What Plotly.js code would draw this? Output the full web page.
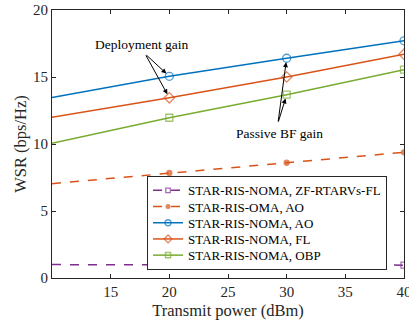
<!DOCTYPE html>
<html>
<head>
<meta charset="utf-8">
<script src="https://cdn.plot.ly/plotly-3.0.1.min.js"></script>
<style>html,body{margin:0;padding:0;background:#fff;}#chart{width:409px;height:320px;}</style>
</head>
<body>
<div id="chart"></div>
<script>
// Data
const power = [10, 20, 30, 40];
const zfRtarvsFl = [1.0, 0.98, 0.98, 0.96];
const omaAo = [7.04, 7.84, 8.6, 9.38];
const nomaAo = [13.47, 15.05, 16.4, 17.7];
const nomaFl = [12.0, 13.45, 15.0, 16.7];
const nomaObp = [10.05, 11.96, 13.68, 15.55];
const seriesNames = ["STAR-RIS-NOMA, ZF-RTARVs-FL", "STAR-RIS-OMA, AO", "STAR-RIS-NOMA, AO", "STAR-RIS-NOMA, FL", "STAR-RIS-NOMA, OBP"];
const xTicks = [15, 20, 25, 30, 35, 40];
const yTicks = [0, 5, 10, 15, 20];

const serif = "Times New Roman";
const msz = (s) => power.map((p, i) => i === 0 ? 0 : s);

function tr(y, name, color, dash, symbol, size) {
  return {
    x: power, y: y, name: name, type: "scatter", mode: "lines+markers",
    line: {color: color, width: 1.5, dash: dash},
    marker: {symbol: symbol, size: msz(size), color: color, line: {color: color, width: 1.3}},
    cliponaxis: true
  };
}

const data = [
  tr(zfRtarvsFl, seriesNames[0], "#7E2F8E", "dash", "square-open", 6),
  tr(omaAo, seriesNames[1], "#D95319", "dash", "circle", 5),
  tr(nomaAo, seriesNames[2], "#0072BD", "solid", "circle-open", 8),
  tr(nomaFl, seriesNames[3], "#D95319", "solid", "diamond-open", 8),
  tr(nomaObp, seriesNames[4], "#77AC30", "solid", "square-open", 7)
];

const axisCommon = {
  showgrid: false, zeroline: false, showline: true, mirror: "allticks",
  linecolor: "#262626", linewidth: 1, ticks: "inside", ticklen: 4, tickcolor: "#262626",
  ticklabeloverflow: "allow", automargin: false,
  tickfont: {family: serif, size: 15, color: "#262626"}
};

const arrowCommon = {showarrow: true, arrowhead: 2, arrowsize: 1, arrowwidth: 1, arrowcolor: "#000",
  axref: "x", ayref: "y", text: "", standoff: 4};

const layout = {
  width: 409, height: 320,
  margin: {l: 52, r: 5, t: 10, b: 42},
  paper_bgcolor: "#fff", plot_bgcolor: "#fff",
  font: {family: serif},
  xaxis: Object.assign({}, axisCommon, {range: [10, 40], tickvals: xTicks,
    title: {text: "Transmit power (dBm)", font: {family: serif, size: 16.5, color: "#262626"}, standoff: 5}}),
  yaxis: Object.assign({}, axisCommon, {range: [0, 20], tickvals: yTicks,
    title: {text: "WSR (bps/Hz)", font: {family: serif, size: 16.5, color: "#262626"}, standoff: 2}}),
  showlegend: true,
  legend: {x: 0.27, y: 0.381, xanchor: "left", yanchor: "top", bgcolor: "#fff",
    bordercolor: "#262626", borderwidth: 1, font: {family: serif, size: 13, color: "#000"},
    tracegroupgap: 0, itemwidth: 30},
  annotations: [
    {x: 17.67, y: 17.45, xref: "x", yref: "y", text: "Deployment gain", showarrow: false,
      font: {family: serif, size: 13.5, color: "#000"}},
    {x: 29.43, y: 10.82, xref: "x", yref: "y", text: "Passive BF gain", showarrow: false,
      font: {family: serif, size: 13.5, color: "#000"}},
    Object.assign({}, arrowCommon, {x: 20, y: 15.05, ax: 17.93, ay: 16.73}),
    Object.assign({}, arrowCommon, {x: 20, y: 13.45, ax: 17.93, ay: 16.73}),
    Object.assign({}, arrowCommon, {x: 30, y: 16.4, ax: 29.26, ay: 11.57}),
    Object.assign({}, arrowCommon, {x: 30, y: 13.68, ax: 29.26, ay: 11.57})
  ]
};

Plotly.newPlot("chart", data, layout, {displayModeBar: false, staticPlot: true}).then(function (gd) {
  // tighten legend row spacing to match the reference
  const rowH = 16.2;
  const traces = gd.querySelectorAll(".legend .traces");
  const pos = [];
  traces.forEach(function (t) {
    const m = /translate\(\s*([-\d.e]+)[\s,]+([-\d.e]+)\s*\)/.exec(t.getAttribute("transform") || "");
    pos.push(m ? [parseFloat(m[1]), parseFloat(m[2])] : null);
  });
  if (pos.length > 1 && pos[0] && pos[1]) {
    const step = pos[1][1] - pos[0][1];
    const y0 = pos[0][1] - 1.5;
    traces.forEach(function (t, i) {
      if (pos[i]) t.setAttribute("transform", "translate(" + pos[i][0] + "," + (y0 + i * rowH) + ")");
    });
    const shrink = (traces.length - 1) * (step - rowH) + 3;
    const legendRects = Array.from(gd.querySelectorAll(".legend rect"));
    const clipRects = Array.from(gd.querySelectorAll("clipPath[id*='legend'] rect"));
    legendRects.concat(clipRects).forEach(function (r) {
      if (r.classList.contains("legendtoggle")) return;
      const h = parseFloat(r.getAttribute("height"));
      if (h > 50) r.setAttribute("height", h - shrink);
    });
  }
});
</script>
</body>
</html>
